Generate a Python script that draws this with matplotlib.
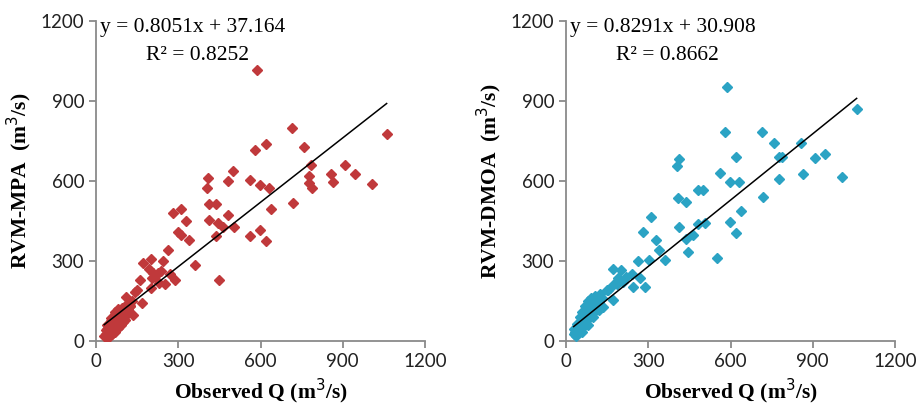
import numpy as np
import matplotlib
matplotlib.use("Agg")
import matplotlib.pyplot as plt

# observed vs simulated discharge
obs_mpa = [30, 35, 38, 40, 42, 45, 48, 50, 52, 55, 55, 58, 60, 62, 65, 65, 68, 70, 72, 75,
           75, 78, 80, 82, 85, 85, 88, 90, 95, 95, 100, 105, 110, 118, 125, 108, 130, 136, 142, 148,
           167, 124, 160, 201, 230, 252, 288, 270, 203, 237, 209, 195, 245, 170, 201, 264, 361, 450,
           438, 339, 309, 300, 504, 462, 444, 412, 327, 483, 309, 282, 438, 413, 406, 483, 410, 501,
           586, 714, 580, 620, 760, 1060, 783, 777, 857, 909, 943, 777, 788, 863, 1008, 562, 598, 632,
           638, 718, 598, 620, 562,
           45, 50, 55, 60, 65, 70, 75, 80, 85, 90, 95, 100, 105, 110, 115, 120, 35, 40, 45, 50,
           60, 70, 80, 90, 100, 215, 225]
sim_mpa = [20, 15, 28, 45, 22, 35, 60, 30, 48, 75, 40, 25, 55, 90, 45, 70, 35, 60, 100, 80,
           50, 65, 120, 90, 55, 75, 105, 70, 85, 125, 100, 80, 115, 105, 130, 166, 150, 97, 185, 190,
           144, 131, 229, 200, 219, 214, 229, 250, 237, 262, 254, 269, 300, 294, 306, 341, 285, 229,
           394, 379, 397, 410, 429, 429, 441, 454, 450, 472, 494, 479, 514, 514, 572, 601, 610, 639,
           1016, 797, 716, 737, 726, 775, 660, 620, 626, 660, 625, 591, 572, 595, 590, 604, 585, 572,
           495, 519, 416, 376, 394,
           50, 65, 85, 40, 95, 110, 95, 70, 95, 115, 105, 125, 95, 135, 120, 140, 40, 60, 15, 20,
           30, 45, 50, 60, 70, 245, 255]

obs_dmoa = [28, 32, 35, 38, 40, 45, 48, 50, 52, 55, 58, 60, 62, 65, 68, 70, 72, 75, 78, 80,
            82, 85, 88, 90, 95, 100, 102, 108, 115, 120, 125, 130, 136, 150, 154, 160, 172, 179, 191, 209,
            245, 240, 270, 288, 201, 170, 264, 304, 361, 552, 446, 339, 327, 438, 464, 413, 507, 483,
            282, 309, 410, 438, 501, 483, 406, 413, 586, 580, 714, 760, 857, 1060, 620, 777, 788, 909,
            943, 562, 598, 632, 777, 863, 1008, 718, 638, 598, 620,
            30, 40, 50, 60, 70, 80, 90, 105, 40, 60, 80, 100, 120, 185, 220]
sim_dmoa = [25, 35, 18, 45, 30, 55, 38, 70, 45, 60, 85, 50, 75, 100, 65, 90, 120, 80, 105, 135,
            95, 115, 140, 100, 125, 150, 110, 135, 160, 145, 175, 160, 129, 190, 191, 200, 154, 216, 235, 222,
            204, 250, 235, 204, 266, 270, 300, 304, 304, 310, 335, 341, 379, 381, 397, 429, 441, 439,
            407, 466, 537, 522, 566, 566, 656, 681, 951, 785, 785, 744, 744, 869, 691, 691, 689, 685,
            702, 631, 595, 595, 607, 625, 614, 541, 489, 447, 406,
            45, 65, 90, 110, 130, 150, 160, 170, 25, 35, 60, 90, 115, 215, 240]

panels = [
    ("RVM-MPA  (m$^3$/s)", obs_mpa, sim_mpa, 0.8051, 37.164, 0.8252, "#C0393B", 0.1048),
    ("RVM-DMOA  (m$^3$/s)", obs_dmoa, sim_dmoa, 0.8291, 30.908, 0.8662, "#2BA3C4", 0.6179),
]

ticks = [0, 300, 600, 900, 1200]

fig = plt.figure(figsize=(9.16, 4.16), dpi=100)

for ylab, obs, sim, slope, icpt, r2, col, left in panels:
    ax = fig.add_axes([left, 0.1803, 0.3592, 0.7692])
    ax.plot(obs, sim, "D", color=col, ms=5.2, mec=col, zorder=3)
    xs = np.array([min(obs), max(obs)])
    ax.plot(xs, slope * xs + icpt, color="black", lw=1.1, zorder=4)

    ax.set_xlim(0, 1200)
    ax.set_ylim(0, 1200)
    ax.set_xticks(ticks)
    ax.set_yticks(ticks)
    for s in ["top", "right"]:
        ax.spines[s].set_visible(False)
    for s in ["left", "bottom"]:
        ax.spines[s].set_color("#8a8a8a")
        ax.spines[s].set_linewidth(1.3)
    ax.tick_params(direction="out", length=5, width=1.3, color="#8a8a8a",
                   labelsize=13.5, labelcolor="#222222")
    for lab in ax.get_xticklabels() + ax.get_yticklabels():
        lab.set_family("Lato")

    ax.set_xlabel("Observed Q (m$^3$/s)", family="Liberation Serif", fontweight="bold",
                  fontsize=15.5, labelpad=5)
    ax.set_ylabel(ylab, family="Liberation Serif", fontweight="bold", fontsize=15.5, labelpad=5)

    ax.text(15, 1177, "y = %.4fx + %.3f" % (slope, icpt), family="Liberation Serif",
            fontsize=15.5, ha="left", va="center")
    ax.text(369, 1072, "R\u00b2 = %.4f" % r2, family="Liberation Serif",
            fontsize=15.5, ha="center", va="center")

fig.savefig("out.png", dpi=100)
